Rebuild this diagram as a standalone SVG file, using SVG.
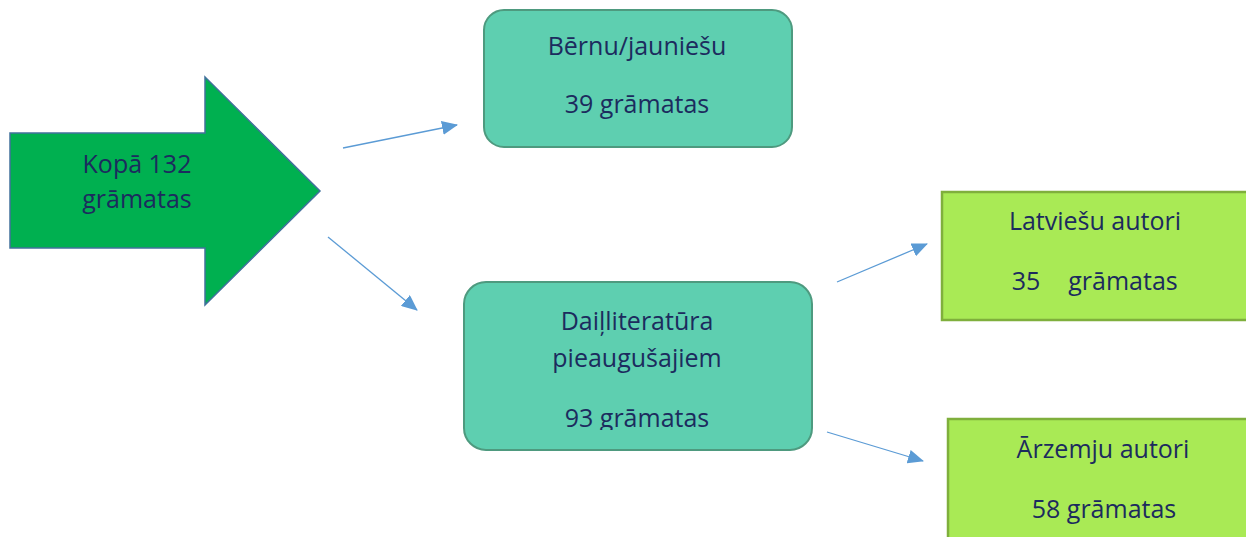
<svg xmlns="http://www.w3.org/2000/svg" width="1246" height="537" viewBox="0 0 1246 537">
<defs>
<style>
.t{font-family:"Open Sans","Liberation Sans",sans-serif;font-size:25px;fill:#1C2B5E;text-anchor:middle}
.teal{fill:#5ECFB0;stroke:#4E9A7F;stroke-width:2}
.lime{fill:#A9EA55;stroke:#7FAF3C;stroke-width:2.5}
.c{stroke:#5B9BD5;stroke-width:1.3;fill:none;marker-end:url(#ah)}
</style>
<marker id="ah" markerUnits="userSpaceOnUse" markerWidth="16" markerHeight="14" refX="15" refY="7" orient="auto">
<path d="M0,0 L16,7 L0,14 Z" fill="#5B9BD5"/>
</marker>
<clipPath id="clip2"><rect x="464" y="282" width="348" height="148"/></clipPath>
</defs>
<rect width="1246" height="537" fill="#fff"/>
<g id="connectors">
<line class="c" x1="343" y1="148" x2="457" y2="125"/>
<line class="c" x1="328" y1="237" x2="417" y2="310"/>
<line class="c" x1="837" y1="282" x2="927" y2="244"/>
<line class="c" x1="827" y1="432" x2="923" y2="461"/>
</g>
<g id="total">
<polygon points="10,133 205,133 205,77 320,191 205,305 205,248 10,248" fill="#00B050" stroke="#41719C" stroke-width="1.5"/>
<text class="t" x="137" y="173">Kopā 132</text>
<text class="t" x="137" y="208">grāmatas</text>
</g>
<g id="children">
<rect class="teal" x="484" y="10" width="308" height="137" rx="20"/>
<text class="t" x="637" y="55">Bērnu/jauniešu</text>
<text class="t" x="637" y="113">39 grāmatas</text>
</g>
<g id="adults">
<rect class="teal" x="464" y="282" width="348" height="168" rx="22"/>
<text class="t" x="637" y="330">Daiļliteratūra</text>
<text class="t" x="637" y="367">pieaugušajiem</text>
<text class="t" x="637" y="427" clip-path="url(#clip2)">93 grāmatas</text>
</g>
<g id="latvian">
<rect class="lime" x="942" y="192" width="310" height="128"/>
<text class="t" x="1095" y="230">Latviešu autori</text>
<text class="t" x="1026" y="290">35</text>
<text class="t" x="1123" y="290">grāmatas</text>
</g>
<g id="foreign">
<rect class="lime" x="948" y="419" width="310" height="130"/>
<text class="t" x="1103" y="458">Ārzemju autori</text>
<text class="t" x="1104" y="518">58 grāmatas</text>
</g>
</svg>
